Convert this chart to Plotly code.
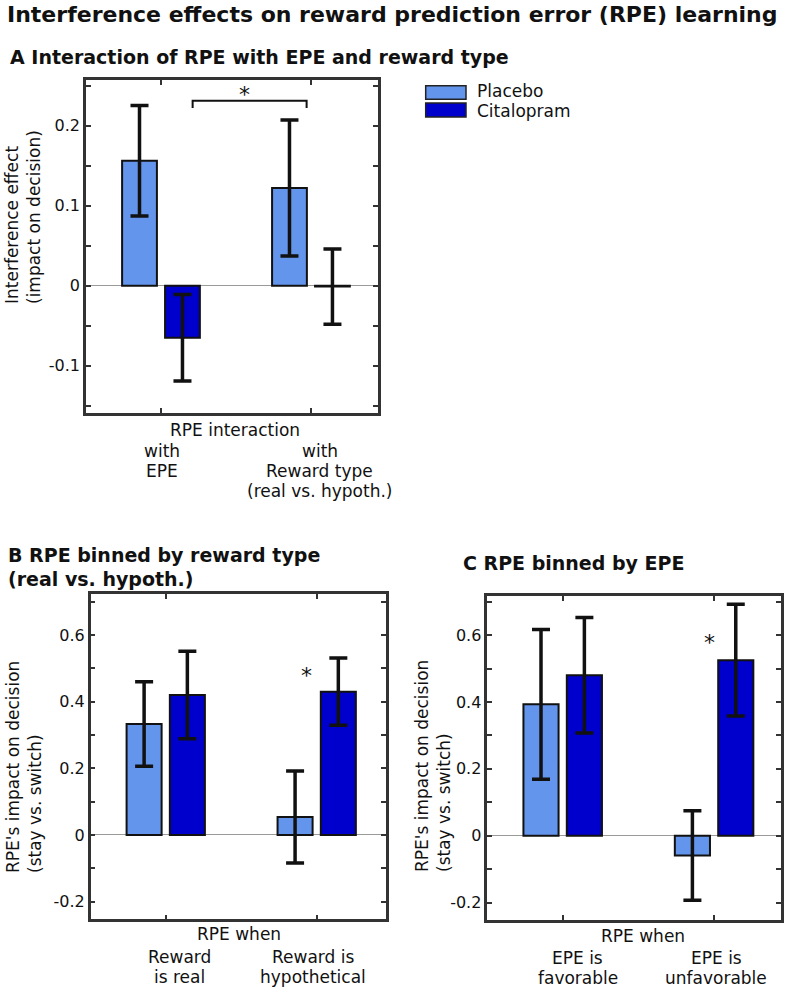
import plotly.graph_objects as go

W, H = 791, 992
FONT = "DejaVu Sans"

# ---------------- data ----------------
groups = ["Placebo", "Citalopram"]
colors = ["#6495ED", "#0000CD"]

# Panel A
a_cats = [["with", "EPE"], ["with", "Reward type", "(real vs. hypoth.)"]]
a_placebo = [0.156, 0.122]
a_placebo_err = [0.069, 0.085]
a_cital = [-0.065, -0.001]
a_cital_err = [0.054, 0.047]
a_ticks = [-0.15, -0.1, -0.05, 0, 0.05, 0.1, 0.15, 0.2, 0.25]
a_ticktext = ["", "-0.1", "", "0", "", "0.1", "", "0.2", ""]

# Panel B
b_cats = [["Reward", "is real"], ["Reward is", "hypothetical"]]
b_placebo = [0.333, 0.054]
b_placebo_err = [0.127, 0.138]
b_cital = [0.420, 0.430]
b_cital_err = [0.131, 0.101]

# Panel C
c_cats = [["EPE is", "favorable"], ["EPE is", "unfavorable"]]
c_placebo = [0.393, -0.059]
c_placebo_err = [0.224, 0.134]
c_cital = [0.480, 0.525]
c_cital_err = [0.173, 0.167]

bc_ticks = [-0.2, -0.1, 0, 0.1, 0.2, 0.3, 0.4, 0.5, 0.6, 0.7]
bc_ticktext = ["-0.2", "", "0", "", "0.2", "", "0.4", "", "0.6", ""]

# ---------------- helpers ----------------
def px(x):
    return x / W


def py(y):
    return 1 - y / H


fig = go.Figure()

panels = [
    ("x", "y", a_cats, a_placebo, a_placebo_err, a_cital, a_cital_err),
    ("x2", "y2", b_cats, b_placebo, b_placebo_err, b_cital, b_cital_err),
    ("x3", "y3", c_cats, c_placebo, c_placebo_err, c_cital, c_cital_err),
]

for xa, ya, cats, pv, pe, cv, ce in panels:
    pos = list(range(1, len(cats) + 1))
    for name, col, vals, errs in [(groups[0], colors[0], pv, pe), (groups[1], colors[1], cv, ce)]:
        fig.add_trace(go.Bar(
            x=pos, y=vals, name=name, xaxis=xa, yaxis=ya,
            marker=dict(color=col, line=dict(color="#111111", width=2)),
            error_y=dict(type="data", array=errs, visible=True,
                         color="#111111", thickness=3.5, width=9),
            showlegend=False,
        ))

axis_common = dict(
    showline=True, linecolor="#333333", linewidth=2.5, mirror="allticks",
    ticks="inside", ticklen=5, tickwidth=2, tickcolor="#333333",
    showgrid=False,
)
xcommon = dict(axis_common, tickvals=[1, 2], showticklabels=False, zeroline=False)
ycommon = dict(axis_common, zeroline=True, zerolinecolor="#9a9a9a", zerolinewidth=1,
               tickfont=dict(family=FONT, size=16, color="#111111"))

fig.update_layout(
    width=W, height=H,
    margin=dict(l=0, r=0, t=0, b=0),
    paper_bgcolor="white", plot_bgcolor="white",
    barmode="group", bargap=0.427, bargroupgap=0.19,
    font=dict(family=FONT, size=17, color="#111111"),
    xaxis=dict(xcommon, domain=[px(86), px(378)], range=[0.5, 2.447], anchor="y"),
    yaxis=dict(ycommon, domain=[py(413), py(80)], range=[-0.159, 0.257],
               tickvals=a_ticks, ticktext=a_ticktext, anchor="x"),
    xaxis2=dict(xcommon, domain=[px(90.7), px(386)], range=[0.503, 2.459], anchor="y2"),
    yaxis2=dict(ycommon, domain=[py(919.3), py(594)], range=[-0.253, 0.723],
                tickvals=bc_ticks, ticktext=bc_ticktext, anchor="x2"),
    xaxis3=dict(xcommon, domain=[px(487.3), px(780.7)], range=[0.502, 2.44], anchor="y3"),
    yaxis3=dict(ycommon, domain=[py(920), py(596)], range=[-0.252, 0.717],
                tickvals=bc_ticks, ticktext=bc_ticktext, anchor="x3"),
)

ann = []


def text(t, x, y, size=17, bold=False, xanchor="center", yanchor="middle",
         xref="paper", yref="paper", xshift=0, yshift=0, angle=0, align="center"):
    ann.append(dict(
        text=f"<b>{t}</b>" if bold else t, x=x, y=y, xref=xref, yref=yref,
        xanchor=xanchor, yanchor=yanchor, showarrow=False, textangle=angle,
        align=align, xshift=xshift, yshift=yshift, borderpad=0,
        font=dict(family=FONT, size=size, color="#111111"),
    ))


# Titles
text("Interference effects on reward prediction error (RPE) learning",
     px(392), py(14), size=22, bold=True)
text("A Interaction of RPE with EPE and reward type", px(9), py(57), size=19,
     bold=True, xanchor="left")
text("B RPE binned by reward type", px(7), py(555), size=19, bold=True, xanchor="left")
text("(real vs. hypoth.)", px(7), py(579), size=19, bold=True, xanchor="left")
text("C RPE binned by EPE", px(462), py(563), size=19, bold=True, xanchor="left")

# Y-axis titles
text("Interference effect<br>(impact on decision)", px(23), py(305), angle=-90,
     yanchor="bottom", align="left")
text("RPE's impact on decision<br>(stay vs. switch)", px(24), py(874), angle=-90,
     yanchor="bottom", align="left")
text("RPE's impact on decision<br>(stay vs. switch)", px(433), py(873), angle=-90,
     yanchor="bottom", align="left")

# X-axis group labels
text("RPE interaction", px(235), py(430))
text("RPE when", px(239), py(934))
text("RPE when", px(642.5), py(936))

label_specs = [
    ("x", a_cats, [1.5, 9], [[451, 471], [451, 471, 491]]),
    ("x2", b_cats, [14, -4], [[957, 977], [957, 977]]),
    ("x3", c_cats, [15, 2], [[958, 978], [958, 978]]),
]
for xref, cats, shifts, ys in label_specs:
    for i, lines in enumerate(cats):
        for line, yy in zip(lines, ys[i]):
            text(line, i + 1, py(yy), xref=xref, xshift=shifts[i])

# Significance stars
text("*", 1.56, 0.241, size=22, xref="x", yref="y", yshift=-2)
text("*", 1.93, 0.486, size=22, xref="x2", yref="y2", yshift=-3)
text("*", 1.967, 0.588, size=22, xref="x3", yref="y3", yshift=-3)

# Legend (manual)
for name, col, yc in [(groups[0], colors[0], 91), (groups[1], colors[1], 111)]:
    text(name, px(476), py(yc), xanchor="left")

fig.update_layout(annotations=ann)

shapes = []
for col, y0, y1 in [(colors[0], 85.7, 99.3), (colors[1], 103, 117)]:
    shapes.append(dict(type="rect", xref="paper", yref="paper",
                       x0=px(425.7), x1=px(466), y0=py(y1), y1=py(y0),
                       fillcolor=col, line=dict(color="#222222", width=1.5)))
# Bracket in panel A
bx0, bx1, by_top, by_end = 1.211, 1.971, 0.231, 0.222
shapes.append(dict(type="path", xref="x", yref="y",
                   path=f"M {bx0} {by_end} L {bx0} {by_top} L {bx1} {by_top} L {bx1} {by_end}",
                   line=dict(color="#111111", width=2)))
fig.update_layout(shapes=shapes)

fig.write_html("out.html", config={"displayModeBar": False},
               post_script="document.body.style.margin='0';")
